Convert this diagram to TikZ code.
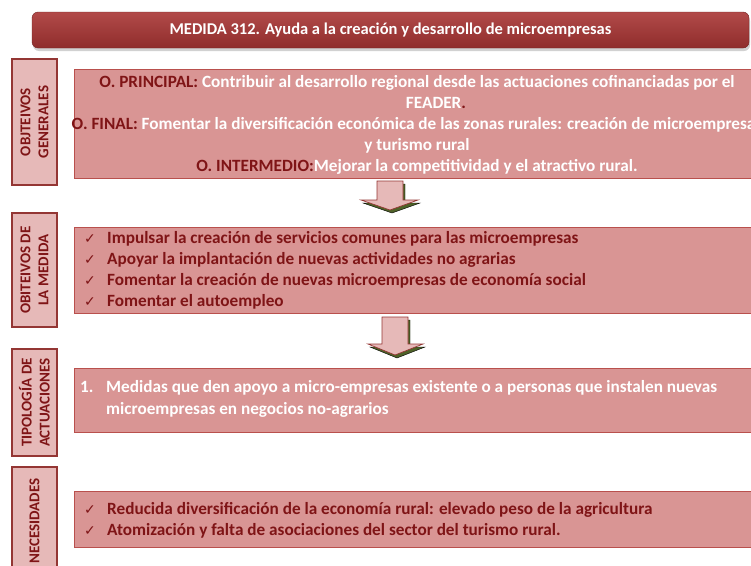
\documentclass[tikz,border=0pt]{standalone}
\usepackage{fontspec}
\setmainfont{Carlito}
\newfontfamily\symfont{DejaVu Sans}
\usetikzlibrary{shadows}
\definecolor{titletop}{HTML}{B24A49}
\definecolor{titlebot}{HTML}{8F2D2C}
\definecolor{mainpink}{HTML}{D99594}
\definecolor{mainedge}{HTML}{B9504D}
\definecolor{sidepink}{HTML}{E6B9B8}
\definecolor{sidered}{HTML}{943634}
\definecolor{textred}{HTML}{7F1416}
\definecolor{shadegreen}{HTML}{4F6228}
\newcommand{\okmark}{\makebox[23pt][l]{\symfont\fontsize{14}{14}\selectfont ✓}}
\begin{document}
\begin{tikzpicture}[x=1pt,y=-1pt,
	titlebar/.style={rounded corners=6pt, top color=titletop, bottom color=titlebot, draw=titlebot!80!black, line width=0.4pt,
		drop shadow={shadow xshift=1pt, shadow yshift=-3pt, opacity=0.3, fill=black!60},
		minimum width=717pt, minimum height=36pt, text=white, font=\bfseries\fontsize{16.5}{18}\selectfont},
	sidebox/.style={rotate=90, draw=sidered, line width=2pt, fill=sidepink, minimum height=45pt, inner sep=0pt,
		align=center, text=textred, font=\bfseries\fontsize{15}{18}\selectfont},
	mainbox/.style={draw=mainedge, line width=0.8pt, fill=mainpink, minimum width=686pt, anchor=north west},
	boxtext/.style={text=textred, font=\bfseries\fontsize{17.2}{21}\selectfont, inner sep=0pt},
	blockarrow/.style={fill=sidepink, draw=sidered, line width=0.7pt},
	arrowshade/.style={fill=shadegreen}]
	\useasboundingbox (0,0) rectangle (751,565);
	% cabecera
	\node[titlebar] (title) at (390.5,30) {MEDIDA 312. Ayuda a la creación y desarrollo de microempresas};
	% etiquetas laterales
	\node[sidebox, minimum width=126pt] (s1) at (34.5,122) {OBJTEIVOS\\GENERALES};
	\node[sidebox, minimum width=114pt] (s2) at (34.5,270) {OBITEIVOS DE\\LA MEDIDA};
	\node[sidebox, minimum width=107pt] (s3) at (34.5,402.5) {TIPOLOGÍA DE\\ACTUACIONES};
	\node[sidebox, minimum width=108pt] (s4) at (34.5,521) {NECESIDADES};
	% cajas principales
	\node[mainbox, minimum height=109pt] (m1) at (74,69) {};
	\node[mainbox, minimum height=86pt] (m2) at (74,227) {};
	\node[mainbox, minimum height=64pt] (m3) at (74,368) {};
	\node[mainbox, minimum height=56pt] (m4) at (74,491) {};
	\node[boxtext, align=center] (t1) at (417,125) {%
		O. PRINCIPAL: {\color{white}Contribuir al desarrollo regional desde las actuaciones cofinanciadas por el}\\
		\hspace*{38pt}{\color{white}FEADER}.\\
		O. FINAL: {\color{white}Fomentar la diversificación económica de las zonas rurales: creación de microempresas}\\
		{\color{white}y turismo rural}\\
		O. INTERMEDIO:{\color{white}Mejorar la competitividad y el atractivo rural.}};
	\node[boxtext, align=left, anchor=west] (t2) at (84,270.5) {%
		\okmark Impulsar la creación de servicios comunes para las microempresas\\
		\okmark Apoyar la implantación de nuevas actividades no agrarias\\
		\okmark Fomentar la creación de nuevas microempresas de economía social\\
		\okmark Fomentar el autoempleo};
	\node[boxtext, align=left, anchor=west, text=white, font=\bfseries\fontsize{17.2}{22}\selectfont] (t3) at (80,398.5) {%
		\makebox[26pt][l]{1.}Medidas que den apoyo a micro-empresas existente o a personas que instalen nuevas\\
		\hspace*{26pt}microempresas en negocios no-agrarios};
	\node[boxtext, align=left, anchor=west] (t4) at (84,520.5) {%
		\okmark Reducida diversificación de la economía rural: elevado peso de la agricultura\\
		\okmark Atomización y falta de asociaciones del sector del turismo rural.};
	% flechas
	\draw[arrowshade, shift={(2,3)}] (377,181) -- (403,181) -- (403,200) -- (418,200) -- (390,210) -- (361,200) -- (377,200) -- cycle;
	\draw[blockarrow] (377,181) -- (403,181) -- (403,200) -- (418,200) -- (390,210) -- (361,200) -- (377,200) -- cycle;
	\draw[arrowshade, shift={(2,3)}] (382,317) -- (408,317) -- (408,344) -- (423,344) -- (395,355) -- (368,344) -- (382,344) -- cycle;
	\draw[blockarrow] (382,317) -- (408,317) -- (408,344) -- (423,344) -- (395,355) -- (368,344) -- (382,344) -- cycle;
\end{tikzpicture}
\end{document}
